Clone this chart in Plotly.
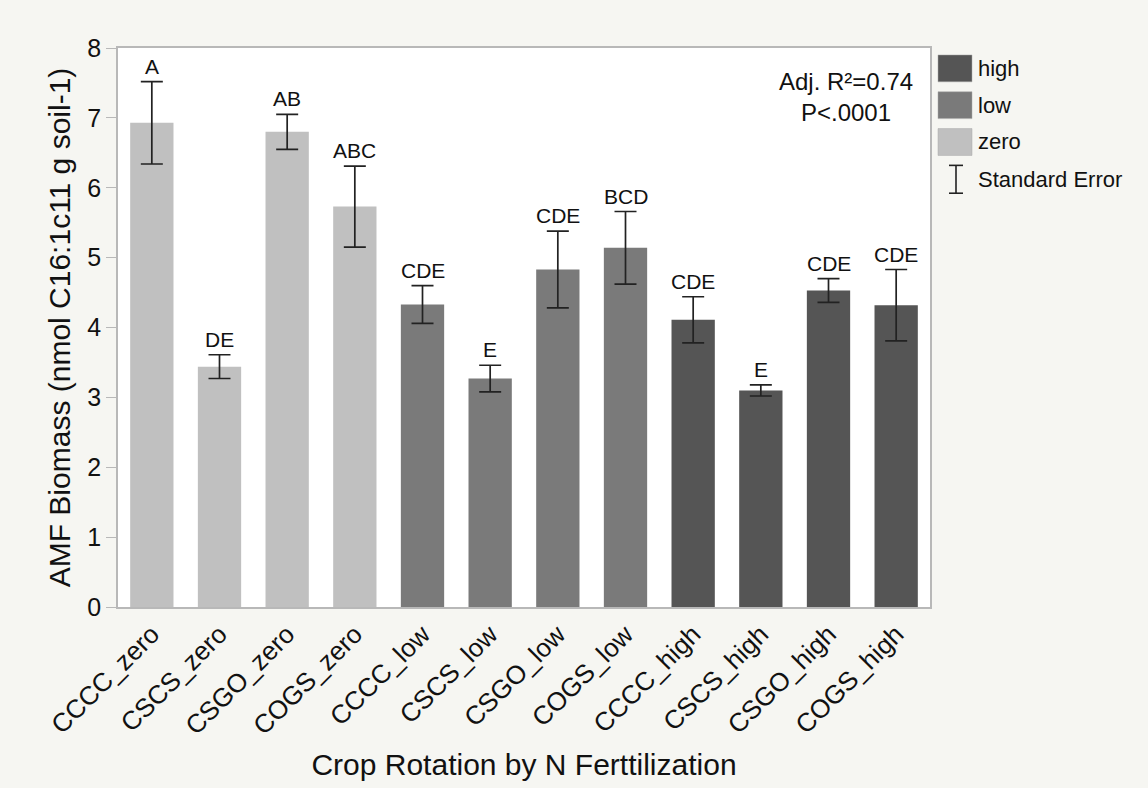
import plotly.graph_objects as go

categories = ["CCCC_zero", "CSCS_zero", "CSGO_zero", "COGS_zero",
              "CCCC_low", "CSCS_low", "CSGO_low", "COGS_low",
              "CCCC_high", "CSCS_high", "CSGO_high", "COGS_high"]
groups = ["zero"] * 4 + ["low"] * 4 + ["high"] * 4
means = [6.93, 3.44, 6.80, 5.73, 4.33, 3.27, 4.83, 5.14, 4.11, 3.10, 4.53, 4.32]
se = [0.59, 0.17, 0.25, 0.58, 0.27, 0.19, 0.55, 0.52, 0.33, 0.08, 0.17, 0.51]
letters = ["A", "DE", "AB", "ABC", "CDE", "E", "CDE", "BCD", "CDE", "E", "CDE", "CDE"]
legend_items = ["high", "low", "zero"]
colors = {"zero": "#c0c0c0", "low": "#7a7a7a", "high": "#555555"}

FONT = "Liberation Sans, Arial, Helvetica, sans-serif"
TXT = "#111111"

fig = go.Figure()
for g in ["zero", "low", "high"]:
    idx = [i for i, gg in enumerate(groups) if gg == g]
    fig.add_trace(go.Bar(
        x=[categories[i] for i in idx],
        y=[means[i] for i in idx],
        name=g,
        marker=dict(color=colors[g], line=dict(width=0)),
        width=0.64,
        error_y=dict(type="data", array=[se[i] for i in idx], color="#222222",
                     thickness=1.7, width=11),
        showlegend=False,
    ))

for c, m, s, lab in zip(categories, means, se, letters):
    fig.add_annotation(x=c, y=m + s, text=lab, showarrow=False, yanchor="bottom",
                       yshift=2, font=dict(size=21, color=TXT, family=FONT))

W, H = 1148, 788
pl, pr, pt, pb = 118, 218, 48, 178
pw, ph = W - pl - pr, H - pt - pb

def px(x):
    return (x - pl) / pw

def py(y):
    return 1 - (y - pt) / ph

# stats text
fig.add_annotation(xref="paper", yref="paper", x=px(846), y=py(97), xanchor="center",
                   yanchor="middle", showarrow=False, align="center",
                   text="Adj. R²=0.74<br>P<.0001",
                   font=dict(size=24, color=TXT, family=FONT))

# manual legend
lx0, lx1 = 938, 972
rows = [(55, 82), (92, 119), (129, 156)]
for name, (y0, y1) in zip(legend_items, rows):
    fig.add_shape(type="rect", xref="paper", yref="paper",
                  x0=px(lx0), x1=px(lx1), y0=py(y1), y1=py(y0),
                  fillcolor=colors[name], line=dict(width=0.5, color="#aaaaaa"))
    fig.add_annotation(xref="paper", yref="paper", x=px(976), y=py((y0 + y1) / 2),
                       xanchor="left", yanchor="middle", showarrow=False, text=name,
                       font=dict(size=22, color=TXT, family=FONT))
cx = 956
fig.add_shape(type="line", xref="paper", yref="paper", x0=px(cx), x1=px(cx),
              y0=py(194), y1=py(166), line=dict(color="#222222", width=1.6))
for yy in (166, 194):
    fig.add_shape(type="line", xref="paper", yref="paper", x0=px(cx - 7), x1=px(cx + 7),
                  y0=py(yy), y1=py(yy), line=dict(color="#222222", width=1.6))
fig.add_annotation(xref="paper", yref="paper", x=px(976), y=py(180),
                   xanchor="left", yanchor="middle", showarrow=False, text="Standard Error",
                   font=dict(size=22, color=TXT, family=FONT))

fig.update_layout(
    width=W, height=H,
    margin=dict(l=pl, r=pr, t=pt, b=pb),
    paper_bgcolor="#f6f6f2",
    plot_bgcolor="white",
    barmode="overlay",
    font=dict(family=FONT, color=TXT),
    showlegend=False,
    xaxis=dict(categoryorder="array", categoryarray=categories,
               tickangle=-45, tickfont=dict(size=26),
               showline=True, linecolor="#b8b8b8", linewidth=1.5, mirror=True,
               ticks="", title=dict(text="Crop Rotation by N Ferttilization",
                                    font=dict(size=30), standoff=14)),
    yaxis=dict(range=[0, 8], dtick=1, tickfont=dict(size=25),
               showgrid=False, zeroline=False,
               showline=True, linecolor="#b8b8b8", linewidth=1.5, mirror=True,
               ticks="outside", ticklen=10, tickcolor="#b8b8b8",
               title=dict(text="AMF Biomass (nmol C16:1c11 g soil-1)",
                          font=dict(size=30), standoff=8)),
)

fig.write_html("out.html")
